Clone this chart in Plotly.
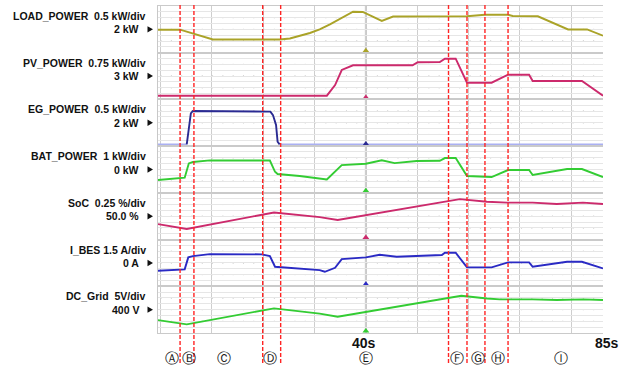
import plotly.graph_objects as go
from plotly.subplots import make_subplots

# ---------------- data (time in s) ----------------
LOAD_T = [-0.5, 3.8, 10.2, 23.2, 25.2, 27.1, 29.1, 31.0, 33.0, 37.5, 39.4, 43.1, 45.3,
          59.7, 63.2, 67.7, 68.6, 73.5, 79.4, 83.1, 86.2]
LOAD_KW = [1.96, 1.97, 1.13, 1.13, 1.22, 1.43, 1.69, 2.00, 2.43, 3.51, 3.49, 2.72, 3.10,
           3.12, 3.25, 3.25, 3.14, 3.12, 1.99, 1.99, 1.46]

PV_T = [-0.5, 32.4, 34.0, 35.3, 37.5, 49.1, 50.1, 54.4, 55.4, 57.5, 59.7, 64.5, 67.7,
        71.8, 72.5, 82.1, 86.2]
PV_KW = [0.48, 0.48, 1.85, 3.78, 4.38, 4.38, 4.77, 4.81, 5.23, 5.23, 2.15, 2.15, 3.17,
         3.17, 2.36, 2.36, 0.48]

EG_T = [5.1, 5.5, 5.9, 6.3, 21.2, 21.4, 21.9, 22.5, 22.8, 23.2]
EG_KW = [0.15, 1.55, 2.81, 3.01, 3.01, 2.96, 2.66, 1.81, 0.38, 0.15]
EG_OFF_T = [-0.5, 5.1, None, 23.2, 86.2]
EG_OFF_KW = [0.15, 0.15, None, 0.15, 0.15]

BAT_T = [-0.5, 4.7, 5.5, 6.3, 9.6, 19.7, 21.3, 22.3, 22.8, 27.1, 31.0, 32.4, 35.3, 40.0,
         43.1, 45.6, 49.9, 54.4, 55.4, 57.5, 59.7, 64.5, 67.7, 71.8, 72.5, 79.2, 82.1, 86.2]
BAT_KW = [-1.81, -1.41, 1.05, 1.28, 1.57, 1.62, 1.53, -0.39, -0.78, -1.12, -1.64, -1.72,
          0.76, 0.98, 1.57, 1.10, 1.45, 1.50, 1.96, 1.96, -1.12, -1.29, -0.09, -0.09,
          -0.95, 0.08, 0.08, -1.29]

SOC_T = [-0.5, 5.1, 22.1, 31.0, 34.5, 58.3, 63.6, 67.5, 72.5, 77.2, 82.3, 86.2]
SOC_PCT = [49.66, 49.45, 50.16, 49.96, 49.84, 50.73, 50.62, 50.58, 50.58, 50.52, 50.58, 50.52]

IBES_T = [-0.5, 4.7, 5.4, 6.3, 9.6, 19.7, 21.3, 22.3, 31.0, 32.0, 34.0, 35.3, 40.0, 42.7,
          46.0, 49.9, 54.8, 55.4, 57.5, 59.7, 64.5, 67.7, 71.8, 72.5, 79.2, 82.1, 86.2]
IBES_A = [-2.02, -1.66, 1.43, 1.76, 2.27, 2.20, 1.76, -0.99, -1.84, -2.27, -1.25, 0.99,
          1.43, 2.09, 1.58, 1.84, 2.02, 2.61, 2.61, -1.14, -1.14, 0.14, 0.14, -0.99,
          0.30, 0.30, -1.40]

DC_T = [-0.5, 5.1, 22.1, 31.0, 34.5, 58.6, 63.6, 66.1, 72.5, 77.2, 82.3, 86.2]
DC_V = [391.0, 387.4, 401.1, 396.6, 393.9, 411.9, 409.6, 408.8, 408.8, 408.2, 408.8, 408.2]

PANEL_TITLES = ["LOAD_POWER\u00a0\u00a00.5 kW/div", "PV_POWER\u00a0\u00a00.75 kW/div",
                "EG_POWER\u00a0\u00a00.5 kW/div", "BAT_POWER\u00a0\u00a01 kW/div",
                "SoC\u00a0\u00a00.25 %/div", "I_BES 1.5 A/div", "DC_Grid\u00a0\u00a05V/div"]
REF_LABELS = ["2 kW", "3 kW", "2 kW", "0 kW", "50.0 %", "0 A", "400 V"]
REF_VALUES = [2, 3, 2, 0, 50, 0, 400]
SCALES = [0.5, 0.75, 0.5, 1, 0.25, 1.5, 5]

EVENT_T = [3.8, 6.5, 19.9, 23.4, 56.1, 59.7, 63.2, 67.7]
STAGE_T = [2.15, 5.5, 12.3, 21.4, 40, 57.7, 61.9, 65.7, 78.1]
STAGE_LABELS = ["Ⓐ", "Ⓑ", "Ⓒ", "Ⓓ", "Ⓔ", "Ⓕ", "Ⓖ", "Ⓗ", "Ⓘ"]
TIME_LABELS = [(39.6, "40s"), (87.0, "85s")]

# ---------------- styling ----------------
W, H = 634, 367
PL, PR, PT, PB = 158, 603, 6, 333
XR = [-0.5, 86.2]
OLIVE = "#aaa328"
MAG = "#cc2a6c"
GREEN = "#33cc33"
BLUE = "#2a2ac4"
NAVY = "#2a2a92"
LAV = "#aab0f2"
COLORS = [OLIVE, MAG, NAVY, GREEN, MAG, BLUE, GREEN]
FONT = "Liberation Sans, Arial, sans-serif"


def pxx(px):
    return (px - PL) / (PR - PL)


def pxy(py):
    return 1 - (py - PT) / (PB - PT)


def t2paper(t):
    return (t - XR[0]) / (XR[1] - XR[0])


fig = make_subplots(rows=7, cols=1, shared_xaxes=True, vertical_spacing=0)

series = [(LOAD_T, LOAD_KW, OLIVE), (PV_T, PV_KW, MAG), (EG_T, EG_KW, NAVY),
          (BAT_T, BAT_KW, GREEN), (SOC_T, SOC_PCT, MAG), (IBES_T, IBES_A, BLUE),
          (DC_T, DC_V, GREEN)]

fig.add_trace(go.Scatter(x=EG_OFF_T, y=EG_OFF_KW, mode="lines",
                         line=dict(color=LAV, width=2), hoverinfo="skip"), row=3, col=1)
for i, (t, v, c) in enumerate(series):
    fig.add_trace(go.Scatter(x=t, y=v, mode="lines", line=dict(color=c, width=1.9),
                             hoverinfo="skip"), row=i + 1, col=1)

shapes = []
for i in range(7):
    ref, s = REF_VALUES[i], SCALES[i]
    lo, hi = ref - 4 * s, ref + 4 * s
    # trigger marker
    fig.add_trace(go.Scatter(x=[40], y=[lo + 0.35 * s], mode="markers", cliponaxis=False,
                             marker=dict(symbol="triangle-up", size=6, color=COLORS[i]),
                             hoverinfo="skip"), row=i + 1, col=1)
    yid = "" if i == 0 else str(i + 1)
    fig.update_yaxes(range=[lo, hi], dtick=s, tick0=ref, showgrid=True, gridcolor="#e6e6e6",
                     gridwidth=1, zeroline=False, showticklabels=False, ticks="",
                     showline=True, linecolor="#c8c8c8", linewidth=1, row=i + 1, col=1)
    fig.update_xaxes(range=XR, dtick=10, tick0=0, showgrid=True, gridcolor="#cecece",
                     gridwidth=1, zeroline=False, showticklabels=False, ticks="",
                     showline=True, mirror=True, linecolor="#cacaca", linewidth=1,
                     row=i + 1, col=1)
    # dotted rows
    for k in (-2, 0, 2):
        shapes.append(dict(type="line", xref="x" + yid, yref="y" + yid, x0=0, x1=XR[1],
                           y0=ref + k * s, y1=ref + k * s, layer="below",
                           line=dict(color="#a0a0a0", width=1, dash="1px,9.3px")))
    # labels
    yc = 1 - (i + 0.5) / 7
    fig.add_annotation(xref="paper", yref="paper", x=pxx(148), y=yc + 13.3 / (PB - PT),
                       text="<b>" + PANEL_TITLES[i] + "</b>", showarrow=False,
                       xanchor="right", yanchor="middle",
                       font=dict(family=FONT, size=10.5, color="#111111"))
    fig.add_annotation(xref="paper", yref="paper", x=pxx(141), y=yc,
                       text="<b>" + REF_LABELS[i] + "</b>", showarrow=False,
                       xanchor="right", yanchor="middle",
                       font=dict(family=FONT, size=10.5, color="#111111"))
    pyc = PT + (i + 0.5) * (PB - PT) / 7
    shapes.append(dict(type="path", xref="paper", yref="paper",
                       path="M %f %f L %f %f L %f %f Z" % (pxx(147.5), pxy(pyc - 3.2),
                                                          pxx(147.5), pxy(pyc + 3.2),
                                                          pxx(153), pxy(pyc)),
                       fillcolor="#111111", line=dict(width=0)))

# 40 s trigger line
shapes.append(dict(type="line", xref="x", yref="paper", x0=40, x1=40, y0=0, y1=1,
                   layer="below", line=dict(color="#c2c2c2", width=2)))
# event lines
for t in EVENT_T:
    shapes.append(dict(type="line", xref="x", yref="paper", x0=t, x1=t,
                       y0=pxy(363), y1=pxy(5),
                       line=dict(color="#ff2424", width=1.4, dash="4px,2px")))

fig.update_layout(shapes=shapes)

for t, lab in TIME_LABELS:
    fig.add_annotation(xref="paper", yref="paper", x=t2paper(t), y=pxy(343),
                       text="<b>" + lab + "</b>",
                       showarrow=False, xanchor="center", yanchor="middle",
                       font=dict(family=FONT, size=14, color="#111111"))
for t, lab in zip(STAGE_T, STAGE_LABELS):
    fig.add_annotation(xref="x", yref="paper", x=t, y=pxy(357.5), text=lab,
                       showarrow=False, xanchor="center", yanchor="middle",
                       font=dict(family="DejaVu Sans", size=14, color="#111111"))

fig.update_layout(width=W, height=H, margin=dict(l=PL, r=W - PR, t=PT, b=H - PB),
                  paper_bgcolor="white", plot_bgcolor="white", showlegend=False)

fig.write_html("out.html", config={"displayModeBar": False},
               post_script="document.body.style.margin='0';"
                           "document.body.style.overflow='hidden';")
